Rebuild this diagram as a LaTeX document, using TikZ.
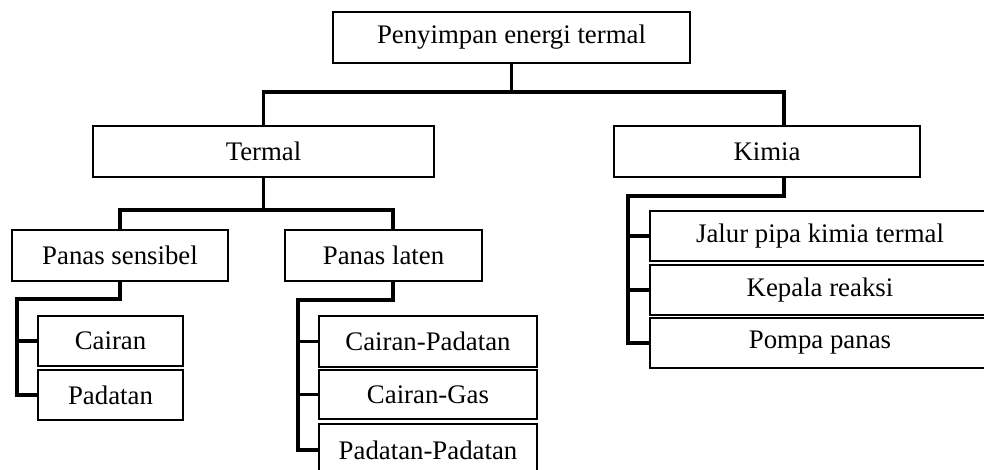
\documentclass[tikz,border=0pt]{standalone}
\usepackage{fontspec}
\setmainfont{Liberation Serif}
\begin{document}
\begin{tikzpicture}[x=1pt,y=-1pt,
  box/.style={draw,line width=1.2pt,inner sep=0pt,anchor=center,
    font=\fontsize{26.8}{30}\selectfont},
  conn/.style={line width=3.1pt}]
\useasboundingbox (0,0) rectangle (984,470);
\clip (0,0) rectangle (984,470);
% boxes
\node[box,minimum width=357pt,minimum height=51pt] (top) at (511.5,37.5) {Penyimpan energi termal};
\node[box,minimum width=341pt,minimum height=51pt] (termal) at (263.5,151.5) {Termal};
\node[box,minimum width=306pt,minimum height=51pt] (kimia) at (767,151.5) {Kimia};
\node[box,minimum width=216pt,minimum height=51pt] (ps) at (120,255.5) {Panas sensibel};
\node[box,minimum width=197pt,minimum height=51pt] (pl) at (383.5,255.5) {Panas laten};
\node[box,minimum width=145pt,minimum height=50pt] (cairan) at (110.5,341) {Cairan};
\node[box,minimum width=145pt,minimum height=50pt] (padatan) at (110.5,395) {Padatan};
\node[box,minimum width=218pt,minimum height=51pt] (cp) at (428,341.5) {Cairan-Padatan};
\node[box,minimum width=218pt,minimum height=49pt] (cg) at (428,394.5) {Cairan-Gas};
\node[box,minimum width=218pt,minimum height=52pt] (pp) at (428,450) {Padatan-Padatan};
\node[box,minimum width=340pt,minimum height=50pt] (jalur) at (820,236) {Jalur pipa kimia termal};
\node[box,minimum width=340pt,minimum height=50pt] (kepala) at (820,290) {Kepala reaksi};
\node[box,minimum width=340pt,minimum height=50pt] (pompa) at (820,343) {Pompa panas};
% junction coordinates
\coordinate (j1) at (511.5,92);
\coordinate (kin) at ([xshift=17pt]kimia.north);
\coordinate (kout) at ([xshift=17pt]kimia.south);
\coordinate (j2) at (263.5,210);
\coordinate (plin) at ([xshift=9.5pt]pl.north);
\coordinate (plout) at ([xshift=9.5pt]pl.south);
\coordinate (c1) at (17,299);
\coordinate (c2) at (298,300);
\coordinate (c3) at (628,196);
% connectors
\draw[conn] (top.south) -- (j1);
\draw[conn] (termal.north) |- (j1) -| (kin);
\draw[conn] (termal.south) -- (j2);
\draw[conn] (ps.north) |- (j2) -| (plin);
\draw[conn] (ps.south) |- (c1) |- (padatan.west);
\draw[conn] (c1 |- cairan.west) -- (cairan.west);
\draw[conn] (plout) |- (c2) |- (pp.west);
\draw[conn] (c2 |- cp.west) -- (cp.west);
\draw[conn] (c2 |- cg.west) -- (cg.west);
\draw[conn] (kout) |- (c3) |- (pompa.west);
\draw[conn] (c3 |- jalur.west) -- (jalur.west);
\draw[conn] (c3 |- kepala.west) -- (kepala.west);
\end{tikzpicture}
\end{document}
